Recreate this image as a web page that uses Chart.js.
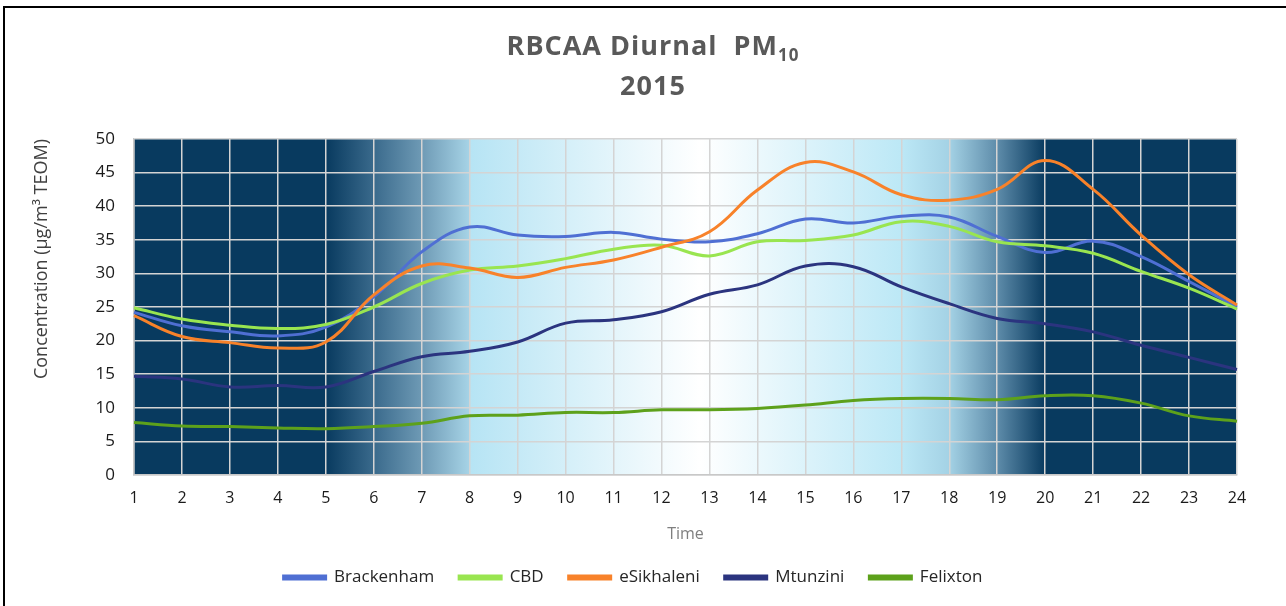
<!DOCTYPE html>
<html>
<head>
<meta charset="utf-8">
<script src="https://cdn.jsdelivr.net/npm/chart.js@4"></script>
<style>
  html, body { margin: 0; padding: 0; background: #ffffff; }
  #wrap { position: relative; width: 1286px; height: 606px; overflow: hidden; }
  #frame { position: absolute; left: 3px; top: 6px; right: -10px; bottom: -10px; border-left: 2px solid #000; border-top: 2px solid #000; pointer-events: none; }
  #title { position: absolute; left: 0; width: 1306px; top: 25px; text-align: center; font-family: "Open Sans", sans-serif; font-weight: 700; font-size: 27px; letter-spacing: 1px; line-height: 40px; color: #595959; }
  #title sub { font-size: 17px; vertical-align: -6px; line-height: 0; }
  canvas { position: absolute; left: 0; top: 0; }
</style>
</head>
<body>
<div id="wrap">
  <canvas id="c" width="1286" height="606"></canvas>
  <div id="title">RBCAA Diurnal&nbsp; PM<sub>10</sub><br>2015</div>
  <div id="frame"></div>
</div>
<script>
const hours = ['1','2','3','4','5','6','7','8','9','10','11','12','13','14','15','16','17','18','19','20','21','22','23','24'];
const yTicks = [0, 5, 10, 15, 20, 25, 30, 35, 40, 45, 50];

const brackenham = [24.2, 22.2, 21.3, 20.7, 22.0, 26.5, 33.2, 36.9, 35.7, 35.5, 36.1, 35.1, 34.7, 35.9, 38.1, 37.5, 38.5, 38.4, 35.5, 33.1, 34.8, 32.5, 28.8, 25.0];
const cbd        = [24.9, 23.2, 22.3, 21.8, 22.4, 25.0, 28.5, 30.5, 31.1, 32.2, 33.6, 34.2, 32.6, 34.7, 34.9, 35.7, 37.7, 37.0, 34.7, 34.1, 33.0, 30.3, 27.8, 24.7];
const eSikhaleni = [23.7, 20.6, 19.7, 18.9, 19.8, 26.8, 31.1, 30.8, 29.4, 30.9, 32.0, 33.9, 36.2, 42.4, 46.5, 45.1, 41.7, 40.9, 42.5, 46.8, 42.5, 35.7, 29.8, 25.3];
const mtunzini   = [14.7, 14.3, 13.1, 13.3, 13.1, 15.4, 17.6, 18.4, 19.8, 22.6, 23.1, 24.3, 26.9, 28.3, 31.1, 31.0, 28.0, 25.5, 23.3, 22.5, 21.3, 19.3, 17.5, 15.7];
const felixton   = [7.8, 7.3, 7.2, 7.0, 6.9, 7.2, 7.7, 8.8, 8.9, 9.3, 9.3, 9.7, 9.7, 9.9, 10.4, 11.1, 11.4, 11.4, 11.2, 11.8, 11.8, 10.7, 8.8, 8.0];

const seriesNames = ['Brackenham', 'CBD', 'eSikhaleni', 'Mtunzini', 'Felixton'];
const seriesData = [brackenham, cbd, eSikhaleni, mtunzini, felixton];
const seriesColors = ['#4F6FD3', '#99E550', '#F8822A', '#2B347F', '#5DA11B'];

// background colour bands (hour index -> colour)
const DARK = '#083A5F';
const bgStops = [
  [0, DARK], [4, DARK], [5, '#3A6A8C'], [6, '#6E9AB5'], [6.99, '#A6D3E6'], [7, '#B6E4F4'],
  [11.8, '#FFFFFF'], [16, '#BCE8F6'], [17, '#A4D2E5'], [18, '#5E8CAA'], [19, DARK], [23, DARK]
];

const bgPlugin = {
  id: 'bgGradient',
  beforeDraw(chart) {
    const {ctx, chartArea: a, scales: {x}} = chart;
    const x0 = x.getPixelForValue(0), x1 = x.getPixelForValue(23);
    const g = ctx.createLinearGradient(x0, 0, x1, 0);
    bgStops.forEach(([h, c]) => g.addColorStop(Math.min(1, Math.max(0, h / 23)), c));
    ctx.save();
    ctx.fillStyle = g;
    ctx.fillRect(a.left, a.top, a.right - a.left, a.bottom - a.top);
    ctx.restore();
  }
};

const datasets = seriesNames.map((n, i) => ({
  label: n,
  data: seriesData[i],
  borderColor: seriesColors[i],
  backgroundColor: seriesColors[i],
  borderWidth: 3,
  pointRadius: 0,
  pointHoverRadius: 0,
  tension: 0.4,
  fill: false,
  order: seriesNames.length - i
}));

const FONT = '"Open Sans", sans-serif';

new Chart(document.getElementById('c'), {
  type: 'line',
  data: { labels: hours, datasets },
  plugins: [bgPlugin],
  options: {
    responsive: false,
    animation: false,
    layout: { padding: { left: 29, right: 49, top: 139, bottom: 10 } },
    plugins: {
      title: { display: false },
      tooltip: { enabled: false },
      legend: {
        position: 'bottom',
        labels: {
          boxWidth: 42, boxHeight: 3, padding: 25,
          color: '#262626',
          font: { family: FONT, size: 17 },
          sort: (a, b) => a.datasetIndex - b.datasetIndex
        }
      }
    },
    scales: {
      x: {
        offset: false,
        grid: { color: '#D4D4D4', lineWidth: 1.5, drawTicks: false },
        border: { color: '#C8C8C8', width: 1.5 },
        ticks: { color: '#1A1A1A', font: { family: FONT, size: 16 }, padding: 14, maxRotation: 0, autoSkip: false },
        title: { display: true, text: 'Time', color: '#7F7F7F', font: { family: FONT, size: 16 }, padding: { top: 0, bottom: 0 } },
        afterFit(s) { s.height = 606 - 10 - s.chart.legend.height - 475; }
      },
      y: {
        min: 0, max: 50,
        afterBuildTicks(s) { s.ticks = yTicks.map(v => ({ value: v })); },
        grid: { color: '#D4D4D4', lineWidth: 1.5, drawTicks: false },
        border: { color: '#C8C8C8', width: 1.5 },
        ticks: { color: '#1A1A1A', font: { family: FONT, size: 17 }, padding: 19 },
        title: { display: true, align: 'end', text: 'Concentration (µg/m³ TEOM)', color: '#404040', font: { family: FONT, size: 18 }, padding: { top: 2, bottom: 0 } },
        afterFit(s) { s.width = 105; }
      }
    }
  }
});
</script>
</body>
</html>
